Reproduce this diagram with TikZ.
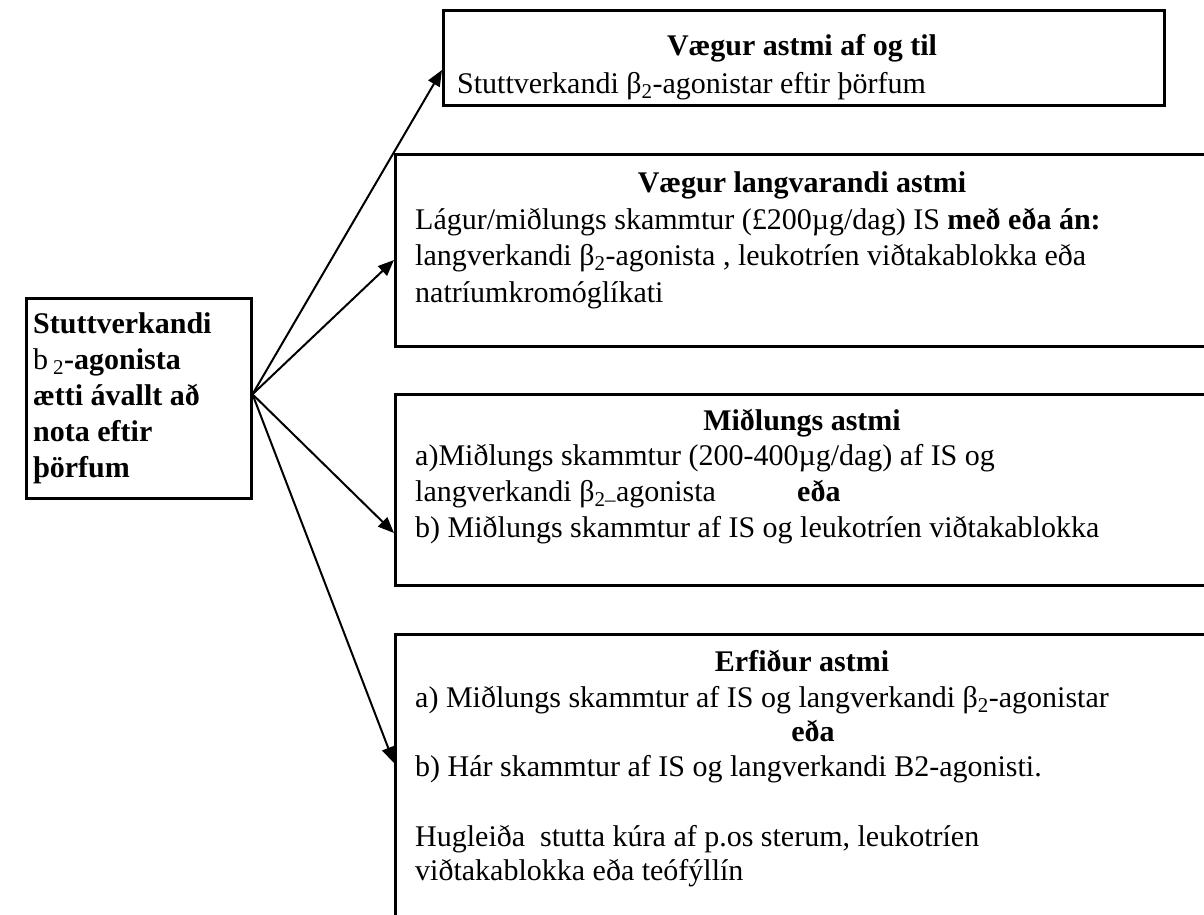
\documentclass[tikz,border=0pt]{standalone}
\usepackage{fontspec}
\setmainfont{Liberation Serif}
\usetikzlibrary{arrows.meta}
\tikzstyle{stage} = [rectangle, draw, line width=2.5pt, anchor=north west, inner sep=0pt]
\tikzstyle{txt} = [font=\fontsize{30}{35}\selectfont, anchor=base west, inner sep=0pt]
\tikzstyle{heading} = [txt, anchor=base, font=\fontsize{30}{35}\selectfont\bfseries]
\tikzstyle{connector} = [line width=2pt, -{Triangle[length=16pt, width=13pt]}]

\begin{document}
\begin{tikzpicture}[x=1pt, y=-1pt]
        \useasboundingbox (0,0) rectangle (1204,914);
        \clip (0,0) rectangle (1204,914);
        % boxes
        \node (start) [stage, minimum width=225pt, minimum height=200pt] at (25,297) {};
        \node (mild) [stage, minimum width=721pt, minimum height=95pt] at (442,9) {};
        \node (persist) [stage, minimum width=830pt, minimum height=192pt] at (394,153) {};
        \node (moderate) [stage, minimum width=830pt, minimum height=191pt] at (394,393) {};
        \node (severe) [stage, minimum width=830pt, minimum height=320pt] at (394,633) {};
        % left box
        \node (start-1) [txt, font=\fontsize{30}{35}\selectfont\bfseries] at (33,333) {Stuttverkandi};
        \node (start-2) [txt] at (33,369) {b\,\textsubscript{2}\textbf{-agonista}};
        \node (start-3) [txt, font=\fontsize{30}{35}\selectfont\bfseries] at (33,405) {ætti ávallt að};
        \node (start-4) [txt, font=\fontsize{30}{35}\selectfont\bfseries] at (33,441) {nota eftir};
        \node (start-5) [txt, font=\fontsize{30}{35}\selectfont\bfseries] at (33,477) {þörfum};
        % mild
        \node (mild-h) [heading] at (802,55) {Vægur astmi af og til};
        \node (mild-1) [txt] at (457,93) {Stuttverkandi β\textsubscript{2}-agonistar eftir þörfum};
        % persistent
        \node (persist-h) [heading] at (802,192) {Vægur langvarandi astmi};
        \node (persist-1) [txt] at (415,229) {Lágur/miðlungs skammtur (£200µg/dag) IS \textbf{með eða án:}};
        \node (persist-2) [txt] at (415,265) {langverkandi β\textsubscript{2}-agonista , leukotríen viðtakablokka eða};
        \node (persist-3) [txt] at (415,302) {natríumkromóglíkati};
        % moderate
        \node (moderate-h) [heading] at (802,430) {Miðlungs astmi};
        \node (moderate-1) [txt] at (415,465) {a)Miðlungs skammtur (200-400µg/dag) af IS og};
        \node (moderate-2) [txt] at (415,501) {langverkandi β\textsubscript{2–}agonista};
        \node (moderate-or) [txt, font=\fontsize{30}{35}\selectfont\bfseries] at (797,501) {eða};
        \node (moderate-3) [txt] at (415,537) {b) Miðlungs skammtur af IS og leukotríen viðtakablokka};
        % severe
        \node (severe-h) [heading] at (802,671) {Erfiður astmi};
        \node (severe-1) [txt] at (415,707) {a) Miðlungs skammtur af IS og langverkandi β\textsubscript{2}-agonistar};
        \node (severe-or) [heading] at (813,741) {eða};
        \node (severe-2) [txt] at (415,776) {b) Hár skammtur af IS og langverkandi B2-agonisti.};
        \node (severe-3) [txt] at (415,846) {Hugleiða\ \ stutta kúra af p.os sterum, leukotríen};
        \node (severe-4) [txt] at (415,880) {viðtakablokka eða teófýllín};
        % arrows
        \draw [connector] ([yshift=4pt]start.east) -- ([yshift=-61pt]mild.north west);
        \draw [connector] ([yshift=4pt]start.east) -- ([yshift=-107pt]persist.north west);
        \draw [connector] ([yshift=4pt]start.east) -- ([yshift=-140pt]moderate.north west);
        \draw [connector] ([yshift=4pt]start.east) -- ([yshift=-130pt]severe.north west);
    \end{tikzpicture}
\end{document}
